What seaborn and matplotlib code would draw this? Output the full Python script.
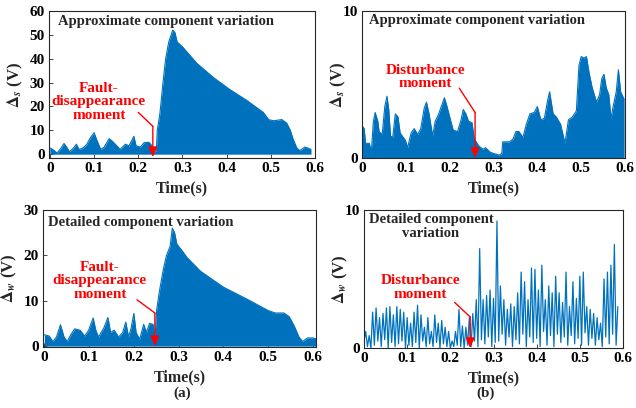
import numpy as np
import pandas as pd
import matplotlib
matplotlib.use("Agg")
import matplotlib.pyplot as plt
import seaborn as sns

# ---------------- data ----------------
# (a) top: approximate component envelope, Delta_s (V)
t_as = [0.0, 0.002, 0.01, 0.016, 0.025, 0.032, 0.038, 0.044, 0.053, 0.06, 0.066, 0.074,
        0.083, 0.092, 0.1, 0.106, 0.115, 0.123, 0.134, 0.141, 0.149, 0.159, 0.171, 0.179,
        0.186, 0.19, 0.195, 0.205, 0.213, 0.224, 0.229, 0.235, 0.241, 0.243, 0.249, 0.256,
        0.262, 0.269, 0.278, 0.283, 0.288, 0.294, 0.3, 0.333, 0.371, 0.408, 0.446, 0.483,
        0.495, 0.506, 0.525, 0.536, 0.544, 0.551, 0.559, 0.566, 0.577, 0.585, 0.591]
v_as = [2.5, 2.5, 1.5, 0.5, 2.5, 4.5, 3.0, 1.0, 2.5, 4.2, 2.0, 2.5,
        4.0, 7.0, 9.0, 6.0, 2.0, 3.0, 6.5, 5.5, 4.0, 2.0, 4.2, 3.5,
        6.0, 7.5, 3.5, 3.0, 4.8, 5.0, 4.0, 0.8, 1.5, 10.0, 17.0, 30.0,
        40.0, 47.0, 52.0, 51.0, 47.0, 46.0, 45.0, 38.0, 32.0, 27.0, 22.5, 17.5,
        14.5, 14.0, 14.5, 13.0, 10.0, 6.0, 2.5, 1.5, 3.0, 2.5, 2.0]

# (a) bottom: detailed component envelope, Delta_w (V)
t_aw = [0.0, 0.011, 0.019, 0.027, 0.036, 0.044, 0.051, 0.059, 0.068, 0.08, 0.09, 0.099,
        0.109, 0.115, 0.121, 0.133, 0.142, 0.148, 0.156, 0.166, 0.175, 0.182, 0.188, 0.194,
        0.2, 0.205, 0.213, 0.222, 0.228, 0.235, 0.243, 0.247, 0.251, 0.257, 0.266, 0.273,
        0.281, 0.286, 0.291, 0.296, 0.308, 0.319, 0.349, 0.4, 0.45, 0.501, 0.516, 0.535,
        0.547, 0.558, 0.569, 0.577, 0.588, 0.6, 0.611]
v_aw = [2.5, 2.2, 1.0, 2.0, 4.7, 2.0, 1.0, 2.5, 3.8, 3.5, 2.2, 3.5,
        6.2, 3.5, 2.0, 4.0, 6.3, 3.0, 3.5, 2.0, 3.0, 5.3, 2.0, 4.0,
        7.2, 3.0, 1.5, 4.8, 3.0, 5.0, 4.8, 1.5, 8.0, 12.0, 17.0, 20.0,
        22.0, 26.0, 25.0, 22.5, 21.0, 19.5, 16.5, 13.0, 10.5, 7.8, 7.3, 7.3,
        6.5, 4.5, 2.0, 1.0, 1.8, 1.8, 1.5]

# (b) top: approximate component envelope, Delta_s (V)
t_bs = [0.0, 0.005, 0.008, 0.017, 0.021, 0.026, 0.03, 0.036, 0.039, 0.046, 0.052, 0.057,
        0.061, 0.065, 0.07, 0.076, 0.082, 0.087, 0.099, 0.104, 0.112, 0.119, 0.127, 0.134,
        0.142, 0.147, 0.153, 0.161, 0.167, 0.175, 0.182, 0.188, 0.193, 0.2, 0.208, 0.218,
        0.226, 0.231, 0.237, 0.243, 0.251, 0.256, 0.267, 0.276, 0.282, 0.292, 0.301, 0.313,
        0.319, 0.321, 0.336, 0.345, 0.351, 0.358, 0.367, 0.375, 0.383, 0.393, 0.4, 0.408,
        0.416, 0.424, 0.428, 0.436, 0.443, 0.453, 0.463, 0.471, 0.48, 0.489, 0.495, 0.5,
        0.506, 0.512, 0.518, 0.525, 0.535, 0.542, 0.547, 0.552, 0.557, 0.563, 0.568, 0.573,
        0.58, 0.585, 0.59, 0.598]
v_bs = [2.2, 2.0, 1.0, 1.0, 0.3, 2.5, 3.1, 2.5, 1.8, 1.6, 3.5, 4.2,
        3.3, 1.5, 1.4, 3.0, 2.8, 1.7, 1.2, 0.7, 1.7, 2.0, 1.6, 2.0,
        3.4, 3.8, 3.0, 1.5, 2.5, 3.0, 3.6, 4.1, 3.6, 2.8, 1.9, 1.8,
        2.6, 3.3, 3.0, 2.5, 2.4, 1.3, 0.8, 0.6, 0.7, 0.4, 0.3, 0.2,
        0.3, 1.1, 1.1, 1.3, 1.8, 1.8, 1.4, 2.3, 3.0, 3.1, 3.5, 2.6,
        2.7, 4.0, 4.5, 3.0, 2.8, 2.3, 1.0, 2.6, 2.8, 3.2, 6.3, 6.9,
        6.8, 6.9, 5.8, 4.8, 3.8, 4.3, 5.4, 5.7, 4.8, 4.3, 2.7, 3.5,
        4.5, 6.0, 4.5, 4.0]

# (b) bottom: detailed component, Delta_w (V), sampled every 0.004 s
v_bw = [0.5, 1.2, 0.1, 0.9, 0.0, 2.6, 0.2, 2.9, 0.5, 2.2,
        0.1, 2.5, 0.6, 2.9, 0.0, 3.0, 0.4, 2.4, 0.1, 3.0,
        0.3, 2.8, 0.5, 2.6, 0.0, 2.2, 0.2, 1.8, 0.1, 2.6,
        0.4, 3.1, 0.0, 2.4, 0.5, 1.5, 0.1, 2.2, 0.3, 1.2,
        0.1, 2.4, 0.4, 1.8, 0.0, 2.0, 0.3, 1.5, 0.1, 1.2,
        0.0, 0.5, 0.1, 1.2, 0.2, 2.8, 0.1, 1.6, 0.0, 1.5,
        0.2, 2.2, 0.1, 2.5, 0.5, 3.5, 0.1, 7.2, 0.6, 3.5,
        0.3, 3.8, 0.8, 4.2, 0.1, 3.6, 0.4, 9.2, 0.5, 4.5,
        1.0, 3.5, 0.2, 2.8, 0.8, 3.2, 0.1, 3.0, 0.6, 4.0,
        0.3, 5.5, 1.0, 4.8, 0.1, 3.5, 0.8, 5.8, 0.4, 5.7,
        0.7, 4.2, 0.1, 6.0, 1.2, 3.5, 0.2, 4.5, 0.9, 4.0,
        0.1, 5.2, 1.0, 4.0, 0.4, 3.3, 0.8, 5.5, 0.2, 3.0,
        0.9, 4.8, 0.3, 3.6, 0.7, 5.2, 0.2, 5.5, 1.1, 3.0,
        0.2, 2.8, 0.7, 2.5, 0.2, 2.2, 0.6, 1.8, 0.1, 5.0,
        0.8, 5.5, 0.3, 6.0, 1.0, 7.5, 0.2, 3.0]
dt_bw = 0.004

xticks = [0, 0.1, 0.2, 0.3, 0.4, 0.5, 0.6]
xtick_labels = ["0", "0.1", "0.2", "0.3", "0.4", "0.5", "0.6"]

# ---------------- style ----------------
sns.set_theme(style="ticks")
plt.rcParams["font.family"] = ["Liberation Serif", "DejaVu Serif"]
plt.rcParams["font.weight"] = "bold"
plt.rcParams["mathtext.fontset"] = "stix"
plt.rcParams["axes.linewidth"] = 0.8

BLUE = "#0072BD"
RED = "#FF0000"
FS = 11

fig = plt.figure(figsize=(6.36, 4.08), dpi=100)

W, H = 636.0, 408.0
def box(l, r, t, b):
    return [l / W, 1 - b / H, (r - l) / W, (b - t) / H]

ax_as = fig.add_axes(box(49, 315, 11, 158))
ax_bs = fig.add_axes(box(362, 625, 11, 158))
ax_aw = fig.add_axes(box(43, 316, 210, 347))
ax_bw = fig.add_axes(box(364, 623, 210, 348))


def style_axis(ax, xlim, ylim, yticks):
    ax.set_xlim(*xlim)
    ax.set_ylim(*ylim)
    ax.set_xticks(xticks)
    ax.set_xticklabels(xtick_labels)
    ax.set_yticks(yticks)
    ax.set_yticklabels([str(v) for v in yticks])
    ax.tick_params(direction="in", length=3, width=0.6, labelsize=FS, pad=3,
                   colors="#262626", labelcolor="black")
    for lab in ax.get_xticklabels() + ax.get_yticklabels():
        lab.set_fontweight("bold")
    for s in ax.spines.values():
        s.set_visible(True)
        s.set_color("#262626")
        s.set_linewidth(0.8)
    ax.set_xlabel("Time(s)", fontsize=FS + 0.5, fontweight="bold", labelpad=4)


def envelope(ax, t, v):
    df = pd.DataFrame({"t": t, "v": v})
    ax.fill_between(df["t"], 0, df["v"], color=BLUE, lw=0)
    sns.lineplot(data=df, x="t", y="v", ax=ax, color=BLUE, lw=0.8, estimator=None)


def marker(ax, text_xy, seg_start, seg_end, y_bottom, text):
    ax.text(text_xy[0], text_xy[1], text, color=RED, fontsize=FS, fontweight="bold",
            ha="center", va="center", linespacing=1.05)
    ax.plot([seg_start[0], seg_end[0]], [seg_start[1], seg_end[1]], color=RED, lw=1.0)
    ax.annotate("", xy=(seg_end[0], y_bottom), xytext=seg_end,
                arrowprops=dict(arrowstyle="-|>,head_length=0.5,head_width=0.22",
                                color=RED, lw=1.0, shrinkA=0, shrinkB=0))


TITLE_FS = 10.5

# (a) top
envelope(ax_as, t_as, v_as)
style_axis(ax_as, (-0.002, 0.59), (-1.6, 60), [0, 10, 20, 30, 40, 50, 60])
ax_as.set_ylabel(r"$\Delta_s$ (V)", fontsize=FS + 1, fontweight="bold", labelpad=3)
ax_as.text(0.0195, 55.6, "Approximate component variation", fontsize=TITLE_FS,
           fontweight="bold", ha="left", va="center")
marker(ax_as, (0.111, 22), (0.2, 17.5), (0.233, 11.7), -1.2,
       "Fault-\ndisappearance\nmoment")

# (b) top
envelope(ax_bs, t_bs, v_bs)
style_axis(ax_bs, (0, 0.585), (0, 10), [0, 10])
ax_bs.set_ylabel(r"$\Delta_s$ (V)", fontsize=FS + 1, fontweight="bold", labelpad=-4)
ax_bs.text(0.016, 9.35, "Approximate component variation", fontsize=TITLE_FS,
           fontweight="bold", ha="left", va="center")
marker(ax_bs, (0.144, 5.5), (0.222, 4.75), (0.258, 3.1), 0.0,
       "Disturbance\nmoment")

# (a) bottom
envelope(ax_aw, t_aw, v_aw)
style_axis(ax_aw, (-0.003, 0.607), (-0.2, 30), [0, 10, 20, 30])
ax_aw.set_ylabel(r"$\mathbf{\Delta}_w$ (V)", fontsize=FS + 1, fontweight="bold", labelpad=3)
ax_aw.text(0.009, 27.2, "Detailed component variation", fontsize=TITLE_FS,
           fontweight="bold", ha="left", va="center")
marker(ax_aw, (0.124, 14.4), (0.207, 10.2), (0.247, 7.3), 0.0,
       "Fault-\ndisappearance\nmoment")

# (b) bottom
t_bw = [i * dt_bw for i in range(len(v_bw))]
df_bw = pd.DataFrame({"t": t_bw, "v": v_bw})
sns.lineplot(data=df_bw, x="t", y="v", ax=ax_bw, color=BLUE, lw=0.9, estimator=None)
style_axis(ax_bw, (0, 0.585), (0, 10), [0, 10])
ax_bw.set_ylabel(r"$\mathbf{\Delta}_w$ (V)", fontsize=FS + 1, fontweight="bold", labelpad=-4)
ax_bw.text(0.155, 8.8, "Detailed component\nvariation", fontsize=TITLE_FS,
           fontweight="bold", ha="center", va="center", linespacing=1.1)
marker(ax_bw, (0.131, 4.4), (0.21, 3.3), (0.246, 2.25), 0.0,
       "Disturbance\nmoment")

fig.text(182 / W, 1 - 393 / H, "(a)", fontsize=FS, fontweight="bold", ha="center", va="center")
fig.text(486 / W, 1 - 393 / H, "(b)", fontsize=FS, fontweight="bold", ha="center", va="center")

fig.savefig("out.png", dpi=100)
